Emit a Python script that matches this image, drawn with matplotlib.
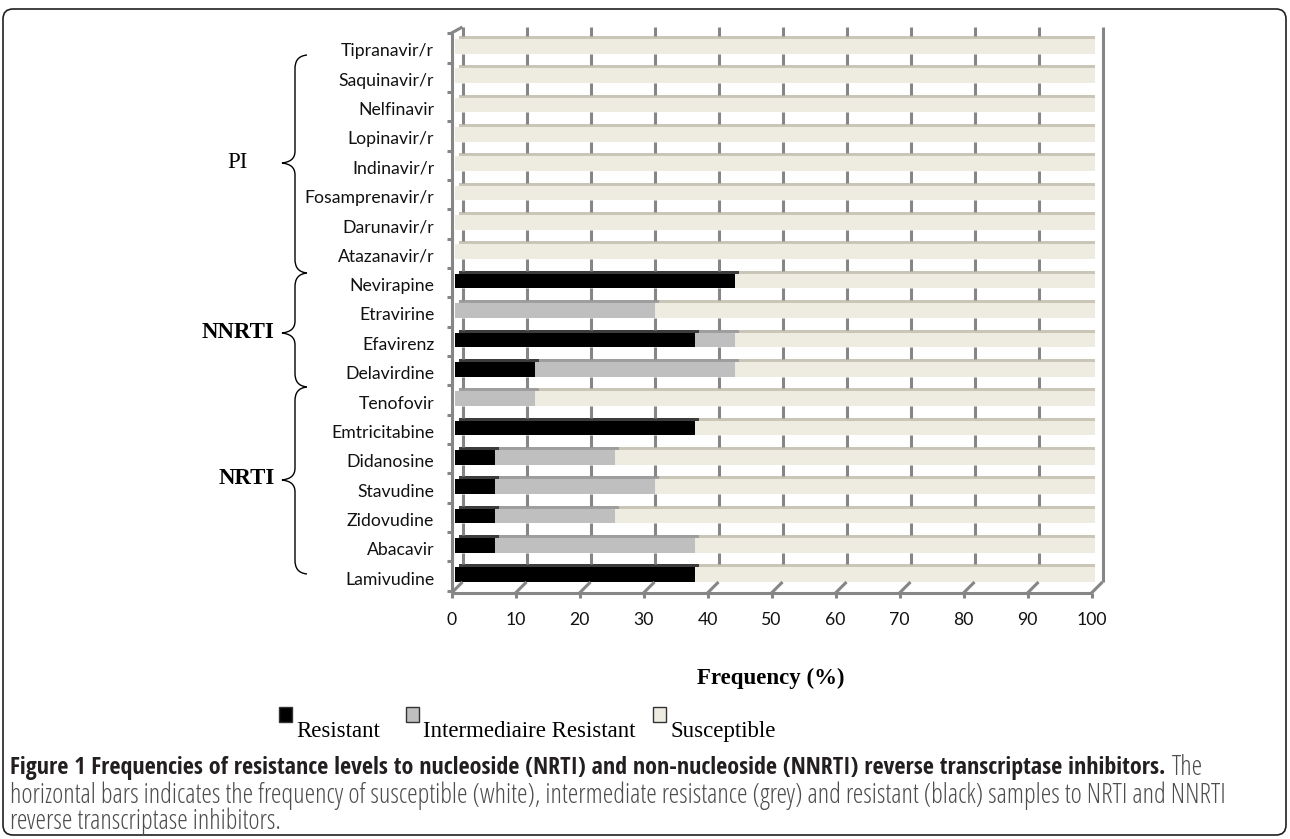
import matplotlib
matplotlib.use('Agg')
import matplotlib.pyplot as plt
import matplotlib.transforms as mtransforms
from matplotlib.patches import FancyBboxPatch, Rectangle, PathPatch
from matplotlib.path import Path
from matplotlib.lines import Line2D
from matplotlib import font_manager
from matplotlib.font_manager import FontProperties

# ---------------- data ----------------
drugs = ["Lamivudine", "Abacavir", "Zidovudine", "Stavudine", "Didanosine",
         "Emtricitabine", "Tenofovir", "Delavirdine", "Efavirenz", "Etravirine",
         "Nevirapine", "Atazanavir/r", "Darunavir/r", "Fosamprenavir/r",
         "Indinavir/r", "Lopinavir/r", "Nelfinavir", "Saquinavir/r", "Tipranavir/r"]
resistant = [37.5, 6.25, 6.25, 6.25, 6.25, 37.5, 0, 12.5, 37.5, 0, 43.75,
             0, 0, 0, 0, 0, 0, 0, 0]
intermediate = [0, 31.25, 18.75, 25, 18.75, 0, 12.5, 31.25, 6.25, 31.25, 0,
                0, 0, 0, 0, 0, 0, 0, 0]
susceptible = [62.5, 62.5, 75, 68.75, 75, 62.5, 87.5, 56.25, 56.25, 68.75, 56.25,
               100, 100, 100, 100, 100, 100, 100, 100]
xticks = [0, 10, 20, 30, 40, 50, 60, 70, 80, 90, 100]
series_names = ["Resistant", "Intermediaire Resistant", "Susceptible"]
groups = ["NRTI", "NNRTI", "PI"]

# ---------------- style ----------------
W, H, DPI = 1290, 839, 100
colors = ["#000000", "#bfbfbf", "#eeece1"]
depth_colors = ["#3c3c3c", "#9e9e9e", "#c9c6b8"]
grid_c = "#868686"
ttf = font_manager.fontManager.ttflist
names = {f.name for f in ttf}
tick_font = "Lato" if "Lato" in names else "DejaVu Sans"
serif = "Liberation Serif" if "Liberation Serif" in names else "DejaVu Serif"

def wnum(w):
    if isinstance(w, int):
        return w
    return font_manager.weight_dict.get(str(w).lower(), 400)

def is_cond(f):
    return (f.stretch in ("condensed", "semi-condensed", "extra-condensed")
            or "Condensed" in f.name or "Narrow" in f.name)

def pick(target_w):
    pref = ["Open Sans", "Roboto", "Liberation Sans", "Noto Sans", "DejaVu Sans"]
    for p in pref:
        cands = [f for f in ttf if f.name.startswith(p) and is_cond(f)
                 and f.style == "normal"]
        if cands:
            best = min(cands, key=lambda f: abs(wnum(f.weight) - target_w))
            return FontProperties(fname=best.fname)
    return FontProperties(family="Open Sans",
                          weight="bold" if target_w >= 600 else "normal")

fp_bold = pick(700)
fp_reg = pick(400)

fig = plt.figure(figsize=(W / DPI, H / DPI), dpi=DPI)
fig.patch.set_facecolor("white")

# overlay in pixel coordinates (y downward)
ov = fig.add_axes([0, 0, 1, 1], zorder=0)
ov.set_xlim(0, W)
ov.set_ylim(H, 0)
ov.axis("off")

# main axes: x 0..100 -> 455..1095 px ; label rows 578 .. 50 px
top_px, bot_px = 50 - 14.67, 578 + 14.67
ax = fig.add_axes([455 / W, (H - bot_px) / H, 640 / W, (bot_px - top_px) / H], zorder=1)
ax.patch.set_visible(False)
ax.set_xlim(0, 100)
ax.set_ylim(-0.5, len(drugs) - 0.5)
for s in ax.spines.values():
    s.set_visible(False)

def px(dx, dy):
    # offset in pixels (dy positive = up)
    return mtransforms.ScaledTranslation(dx / DPI, dy / DPI, fig.dpi_scale_trans)

ypos = list(range(len(drugs)))
ax.set_yticks(ypos, drugs)
ax.tick_params(axis="y", length=0, pad=15, labelsize=12.7, labelcolor="#111111")
ax.set_xticks(xticks, [str(v) for v in xticks])
ax.tick_params(axis="x", length=0, pad=14, labelsize=12.7, labelcolor="#111111")
for lbl in ax.get_yticklabels() + ax.get_xticklabels():
    lbl.set_fontfamily(tick_font)
for lbl in ax.get_xticklabels():
    lbl.set_transform(lbl.get_transform() + px(-3.5, 0))

# ---------- bars ----------
BAR_H = 0.5
bar_off = px(0, 3.5)
depth_off = px(4, 3)
lefts = [0] * len(drugs)
segs = []
for vals, c, dc in zip([resistant, intermediate, susceptible], colors, depth_colors):
    segs.append((list(lefts), vals, c, dc))
    lefts = [l + v for l, v in zip(lefts, vals)]

for left, vals, c, dc in segs:
    d = ax.barh(ypos, vals, left=left, height=BAR_H, color=dc, zorder=1.5)
    for p in d:
        p.set_transform(ax.transData + bar_off + depth_off)
for left, vals, c, dc in segs:
    b = ax.barh(ypos, vals, left=left, height=BAR_H, color=c, zorder=2)
    for p in b:
        p.set_transform(ax.transData + bar_off)
ax.set_xlim(0, 100)
ax.set_ylim(-0.5, len(drugs) - 0.5)

fig.canvas.draw()
inv = ov.transData.inverted()
xgrid = mtransforms.blended_transform_factory(ax.transData, ov.transData)
ygrid = mtransforms.blended_transform_factory(ov.transData, ax.transData)

def to_ov(tr, pt):
    return inv.transform(tr.transform(pt))

def snap(x):
    return round(x - 0.5) + 0.5

def gline(xs, ys, lw=2.2):
    ax.add_line(Line2D(xs, ys, transform=ov.transData, color=grid_c, lw=lw,
                       zorder=3, clip_on=False, solid_capstyle="butt"))

# ---------- 3D walls / gridlines (visible between the bars) ----------
row_top = [to_ov(ygrid + bar_off, (0, i + BAR_H / 2))[1] - 3 for i in ypos]
row_bot = [to_ov(ygrid + bar_off, (0, i - BAR_H / 2))[1] for i in ypos]
gaps = [(27, row_top[-1])]
for i in range(len(drugs) - 1):
    gaps.append((row_bot[i + 1], row_top[i]))
gaps.append((row_bot[0], 582))
for v in xticks:
    xb = snap(to_ov(xgrid + px(7, 0), (v, 0))[0])
    xf = snap(to_ov(xgrid + px(-3.5, 0), (v, 0))[0])
    if v == xticks[-1]:
        gline([xb, xb], [27, 582])
    else:
        for g0, g1 in gaps:
            gline([xb, xb], [g0, g1])
    gline([xb, xf], [582, 593])
    gline([xf, xf], [593, 598])
x0f = snap(to_ov(xgrid + px(-3.5, 0), (0, 0))[0])
x1f = snap(to_ov(xgrid + px(-3.5, 0), (100, 0))[0])
x0b = snap(to_ov(xgrid + px(7, 0), (0, 0))[0])
gline([x0f, x1f], [593, 593])
gline([x0f, x0f], [593, 33])
gline([x0f, x0b], [33, 27])
# category boundary ticks on the left axis
for b in [i - 0.5 for i in range(len(drugs) + 1)]:
    yb = to_ov(ygrid + px(0, 2), (0, b))[1]
    gline([x0f - 5, x0f], [yb, yb])

# ---------- braces & group labels ----------
def brace(y0, ym, y1, xr=307, xb=295, xt=282):
    verts = [(xr, y0), (298, y0 + 1), (xb, y0 + 6), (xb, y0 + 14),
             (xb, ym - 12),
             (xb, ym - 4), (290, ym - 1), (xt, ym),
             (290, ym + 1), (xb, ym + 4), (xb, ym + 12),
             (xb, y1 - 14),
             (xb, y1 - 6), (298, y1 - 1), (xr, y1)]
    codes = [Path.MOVETO, Path.CURVE4, Path.CURVE4, Path.CURVE4,
             Path.LINETO,
             Path.CURVE4, Path.CURVE4, Path.CURVE4,
             Path.CURVE4, Path.CURVE4, Path.CURVE4,
             Path.LINETO,
             Path.CURVE4, Path.CURVE4, Path.CURVE4]
    ov.add_patch(PathPatch(Path(verts, codes), fc="none", ec="black", lw=1.0))

brace(55, 163, 273)
brace(273, 333, 387)
brace(387, 480, 574)
ov.text(237, 163, groups[2], family=serif, fontsize=16.5, ha="center", va="center")
ov.text(274, 333, groups[1], family=serif, fontsize=16.5, weight="bold", ha="right", va="center")
ov.text(275, 478, groups[0], family=serif, fontsize=16.5, weight="bold", ha="right", va="center")

# ---------- axis title ----------
ov.text(697, 678, "Frequency (%)", family=serif, fontsize=16.5, weight="bold",
        ha="left", va="center")

# ---------- legend ----------
leg_sq = [279, 406, 653]
leg_tx = [296, 423, 670]
for sx, tx, name, c in zip(leg_sq, leg_tx, series_names, colors):
    ov.add_patch(Rectangle((sx, 707), 13, 15, fc=c, ec="#333333", lw=1.0))
    ov.text(tx, 737, name, family=serif, fontsize=16.5, ha="left", va="baseline")

# ---------- caption ----------
cap1_bold = ("Figure 1 Frequencies of resistance levels to nucleoside (NRTI) and "
             "non-nucleoside (NNRTI) reverse transcriptase inhibitors.")
cap2 = ("horizontal bars indicates the frequency of susceptible (white), intermediate "
        "resistance (grey) and resistant (black) samples to NRTI and NNRTI")
cap3 = "reverse transcriptase inhibitors."
r = fig.canvas.get_renderer()

def fit(text, target, fp):
    t = ov.text(10, 0, text, fontproperties=fp, fontsize=13)
    w = t.get_window_extent(r).width
    t.remove()
    return 13 * target / w

fs_b = fit(cap1_bold, 1147, fp_bold)
fs_r = fit(cap2, 1215, fp_reg)
tb1 = ov.text(10, 768, cap1_bold, fontproperties=fp_bold, fontsize=fs_b,
              color="#231f20", ha="left", va="center")
ext = tb1.get_window_extent(r)
xe = inv.transform((ext.x1, 0))[0]
ov.text(xe + 6, 768, "The", fontproperties=fp_reg, fontsize=fs_r, color="#4d4d4d",
        ha="left", va="center")
ov.text(10, 796, cap2, fontproperties=fp_reg, fontsize=fs_r, color="#4d4d4d",
        ha="left", va="center")
ov.text(10, 822, cap3, fontproperties=fp_reg, fontsize=fs_r, color="#4d4d4d",
        ha="left", va="center")

# ---------- frame ----------
ov.add_patch(FancyBboxPatch((3, 9), 1283, 826, boxstyle="round,pad=0,rounding_size=10",
                            fc="none", ec="#231f20", lw=1.2))

fig.savefig("out.png", dpi=DPI, facecolor="white")
